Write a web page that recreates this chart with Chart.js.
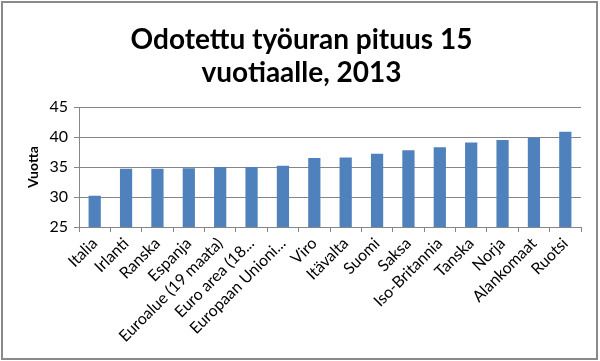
<!DOCTYPE html>
<html>
<head>
<meta charset="utf-8">
<script src="https://cdn.jsdelivr.net/npm/chart.js@4/dist/chart.umd.min.js"></script>
<style>
  html, body { margin: 0; padding: 0; background: #fff; }
  #wrap { width: 600px; height: 361px; position: relative; }
</style>
</head>
<body>
<div id="wrap"><canvas id="chart"></canvas></div>
<script>
const categories = ['Italia', 'Irlanti', 'Ranska', 'Espanja', 'Euroalue (19 maata)', 'Euro area (18...',
    'Europaan Unioni...', 'Viro', 'Itävalta', 'Suomi', 'Saksa', 'Iso-Britannia', 'Tanska', 'Norja',
    'Alankomaat', 'Ruotsi'];
const values = [30.2, 34.7, 34.7, 34.8, 35.0, 35.0, 35.2, 36.5, 36.6, 37.2, 37.8, 38.3, 39.1, 39.5, 39.9, 40.9];
const yTicks = [25, 30, 35, 40, 45];

const fontFamily = 'Lato, "Liberation Sans", sans-serif';

// frame round the whole chart
const framePlugin = {
    id: 'frame',
    afterDraw(chart) {
        const ctx = chart.ctx;
        ctx.save();
        ctx.strokeStyle = '#8a8a8a';
        ctx.lineWidth = 2;
        ctx.strokeRect(2, 2, chart.width - 5, chart.height - 4);
        ctx.restore();
    }
};

new Chart(document.getElementById('chart'), {
    type: 'bar',
    data: {
        labels: categories,
        datasets: [{
            data: values,
            backgroundColor: '#4F81BD',
            barPercentage: 0.39,
            categoryPercentage: 1.0
        }]
    },
    plugins: [framePlugin],
    options: {
        responsive: true,
        maintainAspectRatio: false,
        animation: false,
        layout: { padding: { left: 22, right: 19, top: 0, bottom: 2 } },
        plugins: {
            legend: { display: false },
            tooltip: { enabled: false },
            title: {
                display: true,
                text: ['Odotettu työuran pituus 15', 'vuotiaalle, 2013'],
                color: '#000',
                font: { family: fontFamily, size: 28, weight: 'bold', lineHeight: 1.18 },
                padding: { top: 23, bottom: 18 }
            }
        },
        scales: {
            x: {
                afterFit(axis) { axis.height = 132; },
                grid: {
                    offset: true,
                    drawOnChartArea: false,
                    drawTicks: true,
                    tickLength: 5,
                    color: '#868686'
                },
                border: { color: '#868686' },
                ticks: {
                    minRotation: 45,
                    maxRotation: 45,
                    autoSkip: false,
                    color: '#000',
                    padding: 2,
                    font: { family: fontFamily, size: 16 }
                }
            },
            y: {
                min: 25,
                max: 45,
                afterFit(axis) { axis.width = 57; },
                afterBuildTicks(axis) {
                    axis.ticks = yTicks.map(v => ({ value: v }));
                },
                grid: {
                    color: '#868686',
                    tickLength: 5
                },
                border: { color: '#868686' },
                ticks: {
                    color: '#000',
                    padding: 6,
                    font: { family: fontFamily, size: 16 }
                },
                title: {
                    display: true,
                    text: 'Vuotta',
                    color: '#000',
                    font: { family: fontFamily, size: 14, weight: 'bold' },
                    padding: { top: 3, bottom: 2 }
                }
            }
        }
    }
});
</script>
</body>
</html>
